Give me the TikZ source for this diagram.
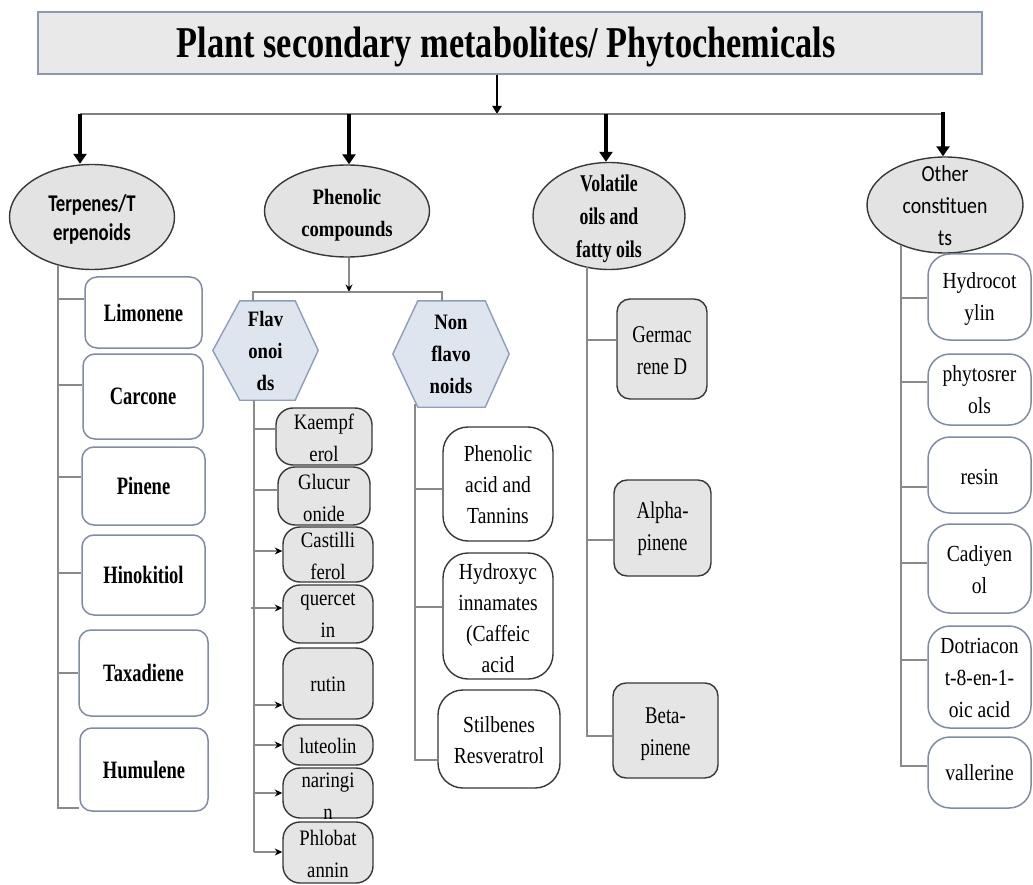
\documentclass[tikz,border=0pt]{standalone}
\usepackage{fontspec}
\setmainfont{Liberation Serif}[FakeStretch=0.85]
\newfontfamily\narrowserif{Liberation Serif}[FakeStretch=0.74]
\newfontfamily\midserif{Liberation Serif}[FakeStretch=0.78]
\newfontfamily\titleserif{Liberation Serif}[FakeStretch=0.78]
\newfontfamily\sansA{Carlito}[FakeStretch=0.78]
\newfontfamily\sansB{Carlito}[FakeStretch=0.86]
\usetikzlibrary{shapes.geometric,arrows.meta,backgrounds}
\definecolor{ellfill}{HTML}{E3E3E3}
\definecolor{darkedge}{HTML}{383838}
\definecolor{blueedge}{HTML}{7E8CA6}
\definecolor{titlefill}{HTML}{E9E9E9}
\definecolor{titleedge}{HTML}{8A9AB6}
\definecolor{hexfill}{HTML}{DFE5EE}
\definecolor{hexedge}{HTML}{8D9EBC}
\definecolor{linegray}{HTML}{8A8A8A}
\definecolor{grayfill}{HTML}{E5E5E5}
\begin{document}
\begin{tikzpicture}[x=1pt,y=-1pt,
  conn/.style={draw=linegray, line width=1.3pt},
  tipped/.style={conn, -{Stealth[length=7.5pt,width=7pt,black]}},
  bigarrow/.style={line width=4pt, black, -{Triangle[length=10pt,width=13pt]}},
  midarrow/.style={line width=2.5pt, black, -{Triangle[length=8pt,width=9pt]}},
  titlebox/.style={rectangle, draw=titleedge, fill=titlefill, line width=1.8pt, inner sep=0,
    minimum width=944pt, minimum height=62pt},
  ell/.style={ellipse, draw=darkedge, fill=ellfill, line width=1.4pt, inner sep=0},
  txt/.style={align=center, inner sep=0},
  hexnode/.style={rectangle, inner sep=0, align=center, font=\bfseries\fontsize{22}{32}\selectfont},
  hexline/.style={draw=hexedge, fill=hexfill, line width=1.4pt},
  tbox/.style={rectangle, rounded corners=12pt, draw=blueedge, fill=white, line width=1.5pt,
    inner sep=0, align=center, font=\narrowserif\bfseries\fontsize{25}{30}\selectfont},
  fbox/.style={rectangle, rounded corners=17pt, draw=darkedge, fill=grayfill, line width=1.4pt, inner sep=0},
  ftxt/.style={txt, font=\fontsize{22}{32}\selectfont},
  nbox/.style={rectangle, rounded corners=25pt, draw=darkedge, fill=white, line width=1.4pt, inner sep=0},
  ntxt/.style={txt, font=\fontsize{23}{31}\selectfont},
  vbox/.style={rectangle, rounded corners=13pt, draw=darkedge, fill=grayfill, line width=1.4pt, inner sep=0},
  vtxt/.style={txt, font=\midserif\fontsize{24}{32}\selectfont},
  obox/.style={rectangle, rounded corners=22pt, draw=blueedge, fill=white, line width=1.5pt, inner sep=0},
  otxt/.style={txt, font=\fontsize{23}{32}\selectfont}
]
\begin{scope}[on background layer]
  \fill[white] (0,0) rectangle (1033,885);
\end{scope}
\useasboundingbox (0,0) rectangle (1033,885);

% title
\node[titlebox] (title) at (510,43) {};
\node[txt, font=\titleserif\bfseries\fontsize{44}{48}\selectfont] (titleT) at (506,47) {Plant secondary metabolites/ Phytochemicals};
\coordinate (hub) at (497,114);
\coordinate (barL) at (80,114);
\coordinate (barR) at (943,114);
\draw[midarrow] (title.south -| hub) -- (hub);
\draw[conn, line width=2pt, draw=gray] (barL) -- (barR);

% main ellipses
\node[ell, minimum width=165pt, minimum height=105pt] (terp) at (92,217) {};
\node[txt, font=\sansA\bfseries\fontsize{24}{29}\selectfont] (terpT) at (92,219) {Terpenes/T\\erpenoids};
\node[ell, minimum width=165pt, minimum height=92pt] (phen) at (347,211) {};
\node[txt, font=\bfseries\fontsize{22}{32}\selectfont] (phenT) at (347,215) {Phenolic\\compounds};
\node[ell, minimum width=152pt, minimum height=107pt] (vol) at (609,216) {};
\node[txt, font=\narrowserif\bfseries\fontsize{24}{33}\selectfont] (volT) at (609,219) {Volatile\\oils and\\fatty oils};
\node[ell, minimum width=156pt, minimum height=96pt] (oth) at (945,205) {};
\node[txt, font=\sansB\fontsize{23}{32}\selectfont] (othT) at (945,206) {Other\\constituen\\ts};

\coordinate (a1) at (80,114);
\coordinate (a2) at (349,114);
\coordinate (a3) at (606,114);
\coordinate (a4) at (943,112);
\draw[bigarrow] (a1) -- (a1 |- terp.north);
\draw[bigarrow] (a2) -- (a2 |- phen.north);
\draw[bigarrow] (a3) -- (a3 |- vol.north);
\draw[bigarrow] (a4) -- (a4 |- oth.north);

% Terpenes column
\node[tbox, minimum width=117pt, minimum height=71pt] (limo) at (143.5,312.5) {Limonene};
\node[tbox, minimum width=120pt, minimum height=85pt] (carc) at (143,396.5) {Carcone};
\node[tbox, minimum width=123pt, minimum height=78pt] (pine) at (143.5,486) {Pinene};
\node[tbox, minimum width=123pt, minimum height=80pt] (hino) at (143.5,575) {Hinokitiol};
\node[tbox, minimum width=129pt, minimum height=86pt] (taxa) at (143.5,673) {Taxadiene};
\node[tbox, minimum width=128pt, minimum height=83pt] (humu) at (144,769.5) {Humulene};
\coordinate (tvTop) at (58,265);
\coordinate (tb1) at (58,299);
\coordinate (tb2) at (58,385);
\coordinate (tb3) at (58,477);
\coordinate (tb4) at (58,573);
\coordinate (tb5) at (58,673);
\coordinate (tvBot) at (58,808);
\draw[conn] (tvTop) -- (tvBot) -- (humu.west |- tvBot);
\draw[conn] (tb1) -- (limo.west |- tb1);
\draw[conn] (tb2) -- (carc.west |- tb2);
\draw[conn] (tb3) -- (pine.west |- tb3);
\draw[conn] (tb4) -- (hino.west |- tb4);
\draw[conn] (tb5) -- (taxa.west |- tb5);

% Phenolic split
\node[hexnode, minimum width=105pt, minimum height=99pt] (flav) at (265.5,350.5) {Flav\\onoi\\ds};
\node[hexnode, minimum width=116pt, minimum height=106pt] (nonf) at (451,354) {Non\\flavo\\noids};
\begin{scope}[on background layer]
  \draw[hexline] (flav.west) -- ([xshift=27pt]flav.north west) -- ([xshift=-23pt]flav.north east)
     -- (flav.east) -- ([xshift=-23pt]flav.south east) -- ([xshift=27pt]flav.south west) -- cycle;
  \draw[hexline] (nonf.west) -- ([xshift=25pt]nonf.north west) -- ([xshift=-24pt]nonf.north east)
     -- (nonf.east) -- ([xshift=-24pt]nonf.south east) -- ([xshift=25pt]nonf.south west) -- cycle;
\end{scope}
\coordinate (pj) at (349,292);
\coordinate (pjL) at (253,292);
\coordinate (pjR) at (442,292);
\draw[tipped] (phen.south -| pj) -- (pj);
\draw[conn] (flav.north -| pjL) -- (pjL) -- (pjR) -- (nonf.north -| pjR);

% Flavonoids column
\node[fbox, minimum width=96pt, minimum height=57pt] (kae) at (324,436.5) {};
\node[ftxt] (kaeT) at (324,438) {Kaempf\\erol};
\node[fbox, minimum width=92pt, minimum height=58pt] (glu) at (324,496) {};
\node[ftxt] (gluT) at (324,498) {Glucur\\onide};
\node[fbox, minimum width=90pt, minimum height=55pt] (cas) at (328,554.5) {};
\node[ftxt] (casT) at (328,556) {Castilli\\ferol};
\node[fbox, minimum width=90pt, minimum height=58pt] (que) at (328,614) {};
\node[ftxt] (queT) at (328,615) {quercet\\in};
\node[fbox, minimum width=90pt, minimum height=71pt] (rut) at (328,683.5) {};
\node[ftxt] (rutT) at (328,684) {rutin};
\node[fbox, minimum width=90pt, minimum height=40pt] (lut) at (328,745) {};
\node[ftxt] (lutT) at (328,746) {luteolin};
\node[fbox, minimum width=90pt, minimum height=50pt] (nar) at (328,793) {};
\node[ftxt] (narT) at (328,796) {naringi\\n};
\node[fbox, minimum width=90pt, minimum height=61pt] (phl) at (328,852.5) {};
\node[ftxt] (phlT) at (328,854) {Phlobat\\annin};
\coordinate (fvTop) at (254,400);
\coordinate (fb1) at (254,429);
\coordinate (fb2) at (254,490);
\coordinate (fb3) at (254,551);
\coordinate (fb4) at (251,608);
\coordinate (fb5) at (254,705);
\coordinate (fb6) at (254,745);
\coordinate (fb7) at (254,793);
\coordinate (fvBot) at (254,852);
\draw[conn] (fvTop) -- (fvBot);
\draw[conn] (fb1) -- (kae.west |- fb1);
\draw[conn] (fb2) -- (glu.west |- fb2);
\draw[tipped] (fb3) -- (cas.west |- fb3);
\draw[tipped] (fb4) -- (que.west |- fb4);
\draw[tipped] (fb5) -- (rut.west |- fb5);
\draw[tipped] (fb6) -- (lut.west |- fb6);
\draw[tipped] (fb7) -- (nar.west |- fb7);
\draw[tipped] (fvBot) -- (phl.west |- fvBot);

% Non flavonoids column
\node[nbox, minimum width=110pt, minimum height=114pt] (pat) at (498,484) {};
\node[ntxt] (patT) at (498,485) {Phenolic\\acid and\\Tannins};
\node[nbox, minimum width=110pt, minimum height=126pt] (hyd) at (498,616) {};
\node[ntxt] (hydT) at (498,618) {Hydroxyc\\innamates\\(Caffeic\\acid};
\node[nbox, minimum width=122pt, minimum height=98pt] (sti) at (499,739) {};
\node[ntxt] (stiT) at (499,740) {Stilbenes\\Resveratrol};
\coordinate (nvTop) at (415,404);
\coordinate (nb1) at (415,489);
\coordinate (nb2) at (415,607);
\coordinate (nvBot) at (415,760);
\draw[conn] (nvTop) -- (nvBot) -- (sti.west |- nvBot);
\draw[conn] (nb1) -- (pat.west |- nb1);
\draw[conn] (nb2) -- (hyd.west |- nb2);

% Volatile column
\node[vbox, minimum width=90pt, minimum height=100pt] (ger) at (662,349) {};
\node[vtxt] (gerT) at (662,351) {Germac\\rene D};
\node[vbox, minimum width=97pt, minimum height=96pt] (alp) at (662.5,528) {};
\node[vtxt] (alpT) at (662.5,529) {Alpha-\\pinene};
\node[vbox, minimum width=105pt, minimum height=95pt] (bet) at (665.5,730.5) {};
\node[vtxt] (betT) at (665.5,734) {Beta-\\pinene};
\coordinate (vvTop) at (587,267);
\coordinate (vb1) at (587,340);
\coordinate (vb2) at (587,540);
\coordinate (vvBot) at (587,736);
\draw[conn] (vvTop) -- (vvBot) -- (bet.west |- vvBot);
\draw[conn] (vb1) -- (ger.west |- vb1);
\draw[conn] (vb2) -- (alp.west |- vb2);

% Other constituents column
\node[obox, minimum width=103pt, minimum height=86pt] (hyc) at (979.5,297) {};
\node[otxt] (hycT) at (979.5,299) {Hydrocot\\ylin};
\node[obox, minimum width=103pt, minimum height=71pt] (phy) at (979.5,389.5) {};
\node[otxt] (phyT) at (979.5,390) {phytosrer\\ols};
\node[obox, minimum width=103pt, minimum height=76pt] (res) at (979.5,475) {};
\node[otxt] (resT) at (979.5,477) {resin};
\node[obox, minimum width=103pt, minimum height=89pt] (cad) at (979.5,568.5) {};
\node[otxt] (cadT) at (979.5,570) {Cadiyen\\ol};
\node[obox, minimum width=103pt, minimum height=102pt] (dot) at (979.5,677) {};
\node[otxt] (dotT) at (979.5,678) {Dotriacon\\t-8-en-1-\\oic acid};
\node[obox, minimum width=103pt, minimum height=71pt] (val) at (979.5,772.5) {};
\node[otxt] (valT) at (979.5,773) {vallerine};
\coordinate (ovTop) at (901,245);
\coordinate (ob1) at (901,298);
\coordinate (ob2) at (901,382);
\coordinate (ob3) at (901,487);
\coordinate (ob4) at (901,563);
\coordinate (ob5) at (901,660);
\coordinate (ovBot) at (901,766);
\draw[conn] (ovTop) -- (ovBot) -- (val.west |- ovBot);
\draw[conn] (ob1) -- (hyc.west |- ob1);
\draw[conn] (ob2) -- (phy.west |- ob2);
\draw[conn] (ob3) -- (res.west |- ob3);
\draw[conn] (ob4) -- (cad.west |- ob4);
\draw[conn] (ob5) -- (dot.west |- ob5);
\end{tikzpicture}
\end{document}
